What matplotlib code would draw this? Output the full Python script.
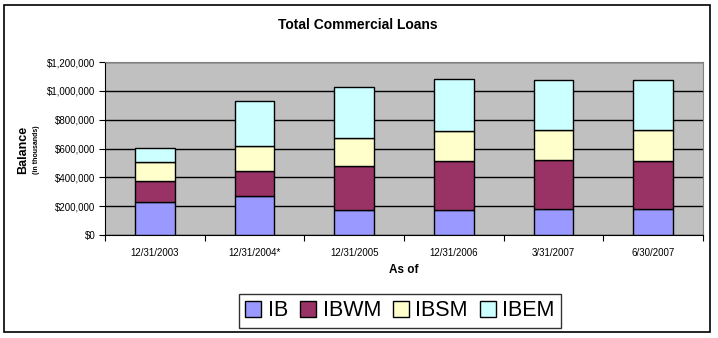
import matplotlib.pyplot as plt
import numpy as np
from matplotlib.patches import Rectangle
from matplotlib.ticker import FuncFormatter, MultipleLocator

# values in thousands of dollars
dates = ['12/31/2003', '12/31/2004*', '12/31/2005', '12/31/2006', '3/31/2007', '6/30/2007']
ib = [229000, 273000, 173000, 173000, 180000, 180000]
ibwm = [146000, 171000, 306000, 340000, 340000, 333000]
ibsm = [131000, 173000, 194000, 208000, 208000, 215000]
ibem = [97000, 312000, 354000, 361000, 347000, 347000]

series = [('IB', ib, '#9999FF'), ('IBWM', ibwm, '#993366'),
          ('IBSM', ibsm, '#FFFFCC'), ('IBEM', ibem, '#CCFFFF')]

W, H = 718, 338
fig = plt.figure(figsize=(W / 100, H / 100), dpi=100)
plt.rcParams['font.family'] = ['Liberation Sans', 'DejaVu Sans']

# outer chart frame
fig.patches.append(Rectangle((4 / W, 1 - 332 / H), 706 / W, 327 / H,
                             transform=fig.transFigure, fill=False,
                             edgecolor='black', linewidth=1.2))

ax = fig.add_axes([105 / W, 1 - 235 / H, (703 - 105) / W, (235 - 62) / H])
ax.set_facecolor('#C0C0C0')

x = np.arange(len(dates))
bottom = np.zeros(len(dates))
for name, vals, color in series:
    ax.bar(x, vals, 0.40, bottom=bottom, color=color, edgecolor='black',
           linewidth=1, label=name, zorder=3)
    bottom += np.array(vals)

ax.set_xlim(-0.5, len(dates) - 0.5)
ax.set_ylim(0, 1200000)
ax.yaxis.set_major_locator(MultipleLocator(200000))
ax.yaxis.set_major_formatter(FuncFormatter(lambda v, p: '${:,.0f}'.format(v)))
ax.grid(axis='y', color='black', linewidth=1, zorder=1)
ax.set_axisbelow(True)

ax.set_xticks(np.arange(len(dates) + 1) - 0.5)
ax.set_xticklabels([])
ax.set_xticks(x, minor=True)
ax.set_xticklabels(dates, minor=True)
ax.tick_params(axis='x', which='minor', length=0, pad=9, labelsize=7)
ax.tick_params(axis='x', which='major', length=4, color='black')
ax.tick_params(axis='y', length=4, labelsize=7, pad=3)

for side in ['top', 'right']:
    ax.spines[side].set_color('#808080')
for side in ['left', 'bottom']:
    ax.spines[side].set_color('black')

fig.text(358 / W, 1 - 25 / H, 'Total Commercial Loans', ha='center', va='center',
         fontsize=10, fontweight='bold')
fig.text(404 / W, 1 - 270 / H, 'As of', ha='center', va='center',
         fontsize=8.5, fontweight='bold')
fig.text(23 / W, 1 - 150 / H, 'Balance', ha='center', va='center', rotation=90,
         fontsize=9, fontweight='bold')
fig.text(37 / W, 1 - 150 / H, '(in thousands)', ha='center', va='center', rotation=90,
         fontsize=5, fontweight='bold')

leg = fig.legend(loc='center', bbox_to_anchor=(400 / W, 1 - 311 / H), ncol=4,
                 fontsize=15.5, frameon=True, fancybox=False, edgecolor='black',
                 handlelength=0.75, handleheight=0.75, handletextpad=0.3,
                 columnspacing=0.55, borderpad=0.3)
leg.get_frame().set_linewidth(1)

fig.savefig('out.png', dpi=100)
